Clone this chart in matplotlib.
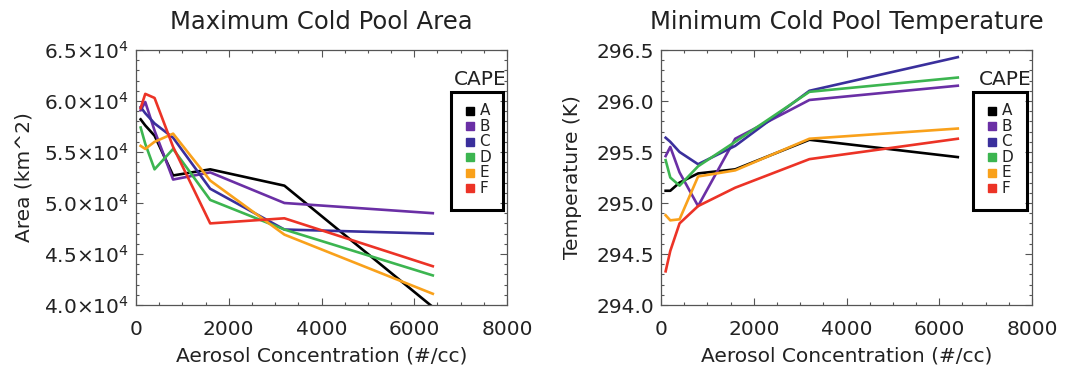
import matplotlib.pyplot as plt
import numpy as np
from matplotlib.patches import Rectangle
from matplotlib.ticker import FuncFormatter, MultipleLocator

aerosol = [100, 200, 400, 800, 1600, 3200, 6400]
cape_runs = ["A", "B", "C", "D", "E", "F"]
run_colors = ["#000000", "#6a2fa5", "#3a2f9c", "#3cb550", "#f9a11b", "#ec3326"]

# maximum cold pool area (km^2)
area_a = [58200, 57600, 56600, 52700, 53300, 51700, 39800]
area_b = [59100, 59900, 57100, 52300, 53000, 50000, 49000]
area_c = [59400, 58800, 57800, 56400, 51400, 47400, 47000]
area_d = [57400, 55800, 53300, 55300, 50300, 47400, 42900]
area_e = [55600, 55300, 56000, 56800, 52200, 46900, 41100]
area_f = [59300, 60700, 60300, 55500, 48000, 48500, 43800]

# minimum cold pool temperature (K)
temp_a = [295.12, 295.12, 295.20, 295.29, 295.33, 295.62, 295.45]
temp_b = [295.46, 295.55, 295.30, 294.97, 295.63, 296.01, 296.15]
temp_c = [295.64, 295.60, 295.50, 295.38, 295.56, 296.10, 296.43]
temp_d = [295.42, 295.25, 295.17, 295.36, 295.60, 296.09, 296.23]
temp_e = [294.88, 294.83, 294.84, 295.26, 295.32, 295.63, 295.73]
temp_f = [294.33, 294.53, 294.80, 294.97, 295.15, 295.43, 295.63]

area = [area_a, area_b, area_c, area_d, area_e, area_f]
temp = [temp_a, temp_b, temp_c, temp_d, temp_e, temp_f]

plt.rcParams["font.family"] = "DejaVu Sans"
text_color = "#222222"

fig = plt.figure(figsize=(10.65, 3.69), dpi=100)
ax1 = fig.add_axes([136 / 1065, 1 - 305 / 369, 371 / 1065, 255 / 369])
ax2 = fig.add_axes([661 / 1065, 1 - 305 / 369, 371 / 1065, 255 / 369])


def style_axes(ax):
    ax.set_xlim(0, 8000)
    ax.xaxis.set_major_locator(MultipleLocator(2000))
    ax.xaxis.set_minor_locator(MultipleLocator(500))
    ax.tick_params(which="both", direction="in", top=True, right=True,
                   colors="#555555", labelcolor=text_color, labelsize=14.5)
    ax.tick_params(which="major", length=5, width=0.8)
    ax.tick_params(which="minor", length=2.5, width=0.8)
    ax.tick_params(axis="x", pad=11)
    ax.tick_params(axis="y", pad=5)
    for s in ax.spines.values():
        s.set_color("#555555")
        s.set_linewidth(0.9)
    ax.set_xlabel("Aerosol Concentration (#/cc)", fontsize=14.5, color=text_color,
                  labelpad=5)


def cape_legend(ax, x0, x1):
    ax.add_patch(Rectangle((x0, 0.373), x1 - x0, 0.835 - 0.373, transform=ax.transAxes,
                           fill=False, ec="black", lw=2.2, clip_on=False, zorder=5))
    ax.text(0.998, 0.885, "CAPE", transform=ax.transAxes, ha="right", va="center",
            fontsize=14.5, color=text_color)
    for i, (run, c) in enumerate(zip(cape_runs, run_colors)):
        y = 0.762 - i * 0.061
        ax.plot([x0 + 0.052], [y], ls="none", marker="s", ms=6, color=c,
                transform=ax.transAxes, clip_on=False)
        ax.text(x0 + 0.077, y, run, transform=ax.transAxes, ha="left", va="center",
                fontsize=11, color=text_color)


for vals, c in zip(area, run_colors):
    ax1.plot(aerosol, vals, color=c, lw=1.9)
style_axes(ax1)
ax1.set_ylim(40000, 65000)
ax1.yaxis.set_major_locator(MultipleLocator(5000))
ax1.yaxis.set_minor_locator(MultipleLocator(1000))
ax1.yaxis.set_major_formatter(FuncFormatter(lambda v, p: f"{v / 1e4:.1f}×10$^4$"))
ax1.set_ylabel("Area (km^2)", fontsize=14.5, color=text_color, labelpad=8)
ax1.set_title("Maximum Cold Pool Area", fontsize=17.5, color=text_color, pad=15)
cape_legend(ax1, 0.849, 0.989)

for vals, c in zip(temp, run_colors):
    ax2.plot(aerosol, vals, color=c, lw=1.9)
style_axes(ax2)
ax2.set_ylim(294.0, 296.5)
ax2.yaxis.set_major_locator(MultipleLocator(0.5))
ax2.yaxis.set_minor_locator(MultipleLocator(0.1))
ax2.yaxis.set_major_formatter(FuncFormatter(lambda v, p: f"{v:.1f}"))
ax2.set_ylabel("Temperature (K)", fontsize=14.5, color=text_color, labelpad=10)
ax2.set_title("Minimum Cold Pool Temperature", fontsize=17.5, color=text_color, pad=15)
cape_legend(ax2, 0.841, 0.987)

fig.savefig("out.png", dpi=100)
